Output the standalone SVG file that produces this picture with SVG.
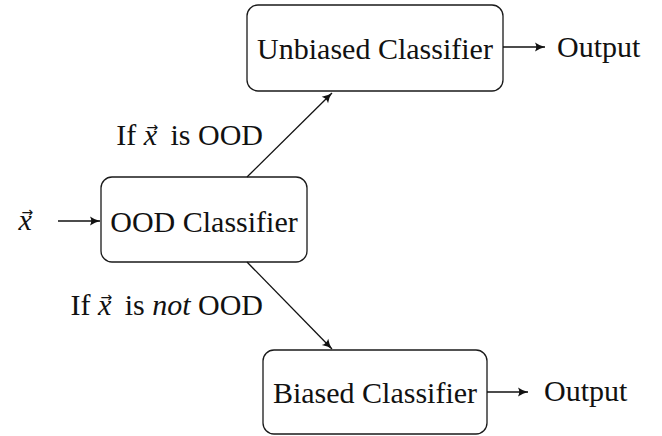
<svg xmlns="http://www.w3.org/2000/svg" width="662" height="436" viewBox="0 0 662 436">
<defs>
<marker id="ah" markerUnits="userSpaceOnUse" markerWidth="14" markerHeight="12" refX="10" refY="6" orient="auto">
<path d="M0,1.5 Q5,5 10,6 Q5,7 0,10.5 Q2.5,6 0,1.5 Z" fill="#111"/>
</marker>
</defs>
<g id="input">
<text x="18.5" y="230" font-family="Liberation Serif" font-size="30" fill="#111" style="font-family:'Liberation Serif',serif !important"><tspan font-style="italic">x</tspan><tspan dx="-10.3" dy="-13" font-size="14" style="font-family:'DejaVu Sans',sans-serif !important">→</tspan></text>
</g>
<g id="ood">
<rect x="101" y="177" width="206" height="85" rx="11" fill="#fff" stroke="#1a1a1a" stroke-width="1.3"/>
<text x="204" y="232" text-anchor="middle" font-family="Liberation Serif" font-size="30" fill="#111" style="font-family:'Liberation Serif',serif !important">OOD Classifier</text>
</g>
<g id="unbiased">
<rect x="247" y="5" width="256" height="86" rx="11" fill="#fff" stroke="#1a1a1a" stroke-width="1.3"/>
<text x="375" y="59" text-anchor="middle" font-family="Liberation Serif" font-size="30" fill="#111" style="font-family:'Liberation Serif',serif !important">Unbiased Classifier</text>
</g>
<g id="biased">
<rect x="263" y="350" width="224" height="84" rx="11" fill="#fff" stroke="#1a1a1a" stroke-width="1.3"/>
<text x="375" y="403" text-anchor="middle" font-family="Liberation Serif" font-size="30" fill="#111" style="font-family:'Liberation Serif',serif !important">Biased Classifier</text>
</g>
<g id="out1"><text x="557" y="57" font-family="Liberation Serif" font-size="30" fill="#111" style="font-family:'Liberation Serif',serif !important">Output</text></g>
<g id="out2"><text x="544" y="401" font-family="Liberation Serif" font-size="30" fill="#111" style="font-family:'Liberation Serif',serif !important">Output</text></g>
<g id="connectors" stroke="#111" stroke-width="1.3" fill="none" marker-end="url(#ah)">
<line x1="58" y1="221" x2="100" y2="221"/>
<line x1="247" y1="177" x2="332" y2="93"/>
<line x1="247" y1="262" x2="332" y2="349"/>
<line x1="503" y1="47" x2="545" y2="47"/>
<line x1="487" y1="392" x2="528" y2="392"/>
</g>
<g id="labels">
<text x="263" y="145" text-anchor="end" font-family="Liberation Serif" font-size="30" fill="#111" style="font-family:'Liberation Serif',serif !important">If <tspan font-style="italic">x</tspan><tspan dx="-10.7" dy="-13" font-size="14" style="font-family:'DejaVu Sans',sans-serif !important">→</tspan><tspan dx="4.8" dy="13"> is OOD</tspan></text>
<text x="263" y="315" text-anchor="end" font-family="Liberation Serif" font-size="30" fill="#111" style="font-family:'Liberation Serif',serif !important">If <tspan font-style="italic">x</tspan><tspan dx="-10.7" dy="-13" font-size="14" style="font-family:'DejaVu Sans',sans-serif !important">→</tspan><tspan dx="4.8" dy="13"> is </tspan><tspan font-style="italic">not</tspan> OOD</text>
</g>
</svg>
